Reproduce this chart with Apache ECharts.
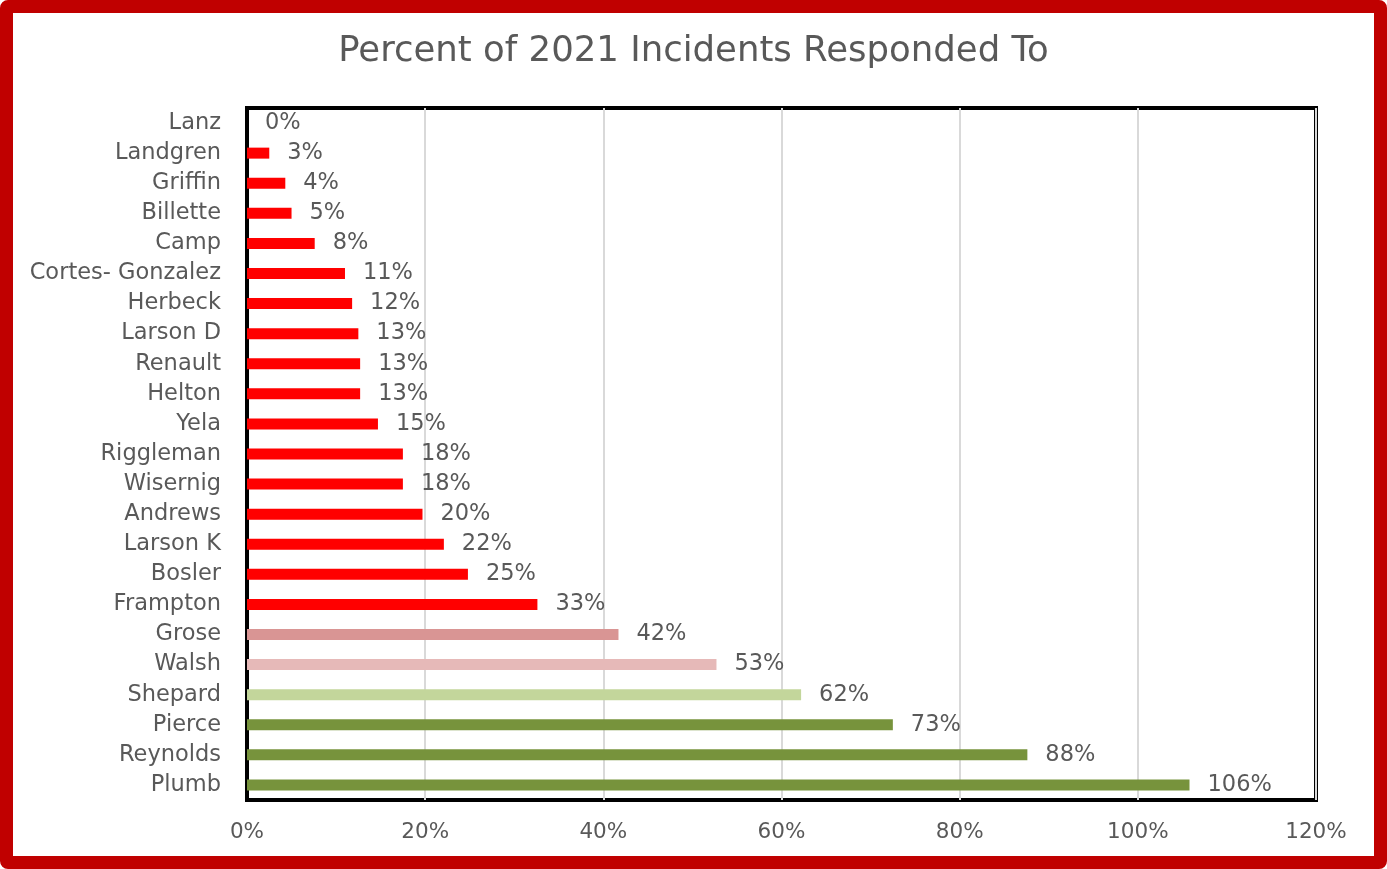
<!DOCTYPE html>
<html>
<head>
<meta charset="utf-8">
<script src="https://cdn.jsdelivr.net/npm/echarts@6/dist/echarts.min.js"></script>
<style>
html,body{margin:0;padding:0;background:#fff;}
#frame{position:absolute;left:0;top:0;width:1387px;height:869px;box-sizing:border-box;border:13px solid #c00000;border-radius:8px;background:#fff;}
#chart{position:absolute;left:0;top:0;width:1387px;height:869px;}
</style>
</head>
<body>
<div id="frame"></div>
<div id="chart"></div>
<script>
const categories = ["Lanz","Landgren","Griffin","Billette","Camp","Cortes- Gonzalez","Herbeck","Larson D","Renault","Helton","Yela","Riggleman","Wisernig","Andrews","Larson K","Bosler","Frampton","Grose","Walsh","Shepard","Pierce","Reynolds","Plumb"];
const values = [0.0,0.025,0.043,0.05,0.076,0.11,0.118,0.125,0.127,0.127,0.147,0.175,0.175,0.197,0.221,0.248,0.326,0.417,0.527,0.622,0.725,0.876,1.058];
const barColors = ["#ff0000","#ff0000","#ff0000","#ff0000","#ff0000","#ff0000","#ff0000","#ff0000","#ff0000","#ff0000","#ff0000","#ff0000","#ff0000","#ff0000","#ff0000","#ff0000","#ff0000","#d99594","#e6b9b8","#c3d69b","#77933c","#77933c","#77933c"];
const xTicks = [0,0.2,0.4,0.6,0.8,1.0,1.2];

const chart = echarts.init(document.getElementById('chart'), null, {renderer:'canvas'});
const font = '"DejaVu Sans", "Open Sans", sans-serif';
chart.setOption({
  backgroundColor: 'transparent',
  animation: false,
  title: {
    text: 'Percent of 2021 Incidents Responded To',
    left: 'center', top: 29,
    textStyle: {fontFamily: font, fontSize: 35.5, fontWeight: 'normal', color: '#595959'}
  },
  grid: {left: 247, right: 71, top: 108, bottom: 69, show: true, borderColor: '#000', borderWidth: 4, backgroundColor: 'transparent'},
  xAxis: {
    type: 'value', min: xTicks[0], max: xTicks[xTicks.length-1], interval: 0.2,
    axisLine: {show: false}, axisTick: {show: false},
    splitLine: {show: true, lineStyle: {color: '#d9d9d9', width: 2}},
    axisLabel: {fontFamily: font, fontSize: 21.5, color: '#595959', margin: 21,
      formatter: v => Math.round(v*100) + '%'}
  },
  yAxis: {
    type: 'category', inverse: true, data: categories,
    axisLine: {show: true, lineStyle: {color: '#000', width: 4}}, axisTick: {show: false},
    axisLabel: {fontFamily: font, fontSize: 22.5, color: '#595959', margin: 26}
  },
  series: [{
    type: 'bar',
    barWidth: 11,
    data: values.map((v,i) => ({value: v, itemStyle: {color: barColors[i]}})),
    label: {show: true, position: 'right', distance: 18, fontFamily: font, fontSize: 22.5, color: '#595959',
      formatter: p => Math.round(p.value*100) + '%'}
  }]
});
</script>
</body>
</html>
